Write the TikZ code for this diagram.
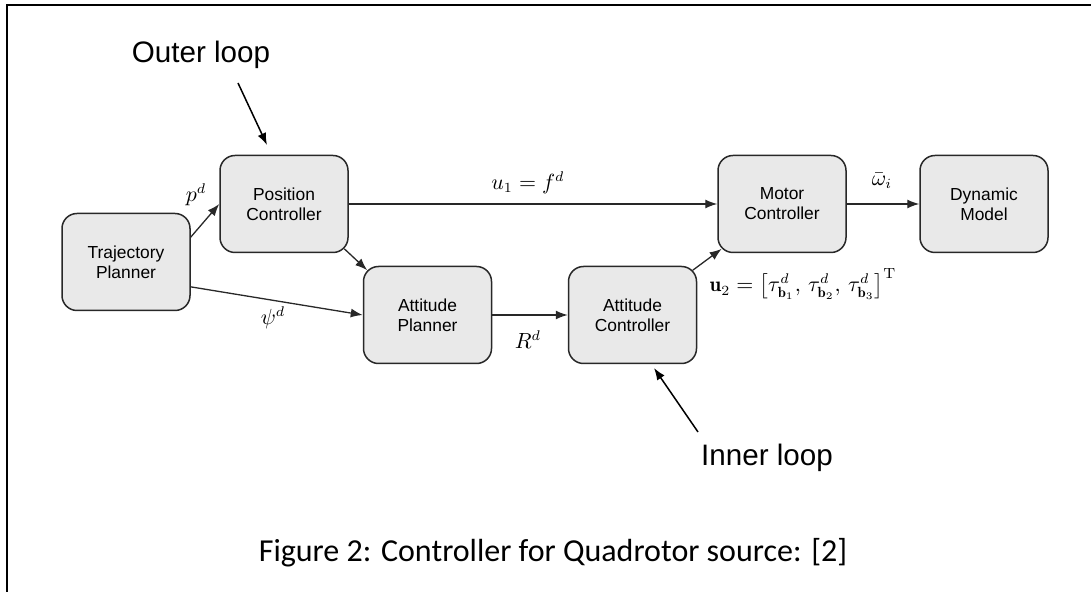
\documentclass[tikz,border=0pt]{standalone}
\usepackage{amsmath,amssymb}
\usepackage{fontspec}
\newfontfamily\blockfont{Liberation Sans}
\newfontfamily\captionfont{Carlito}
\usepackage{xcolor}
\usepackage{tikz}
\usetikzlibrary{arrows.meta, positioning}

\definecolor{blockfill}{RGB}{233,233,233}
\definecolor{blockline}{RGB}{40,40,40}

\begin{document}
\begin{tikzpicture}[
    x=0.5pt, y=-0.5pt,
    block/.style={draw=blockline, line width=0.75pt, rounded corners=7.5pt, fill=blockfill, minimum width=64pt, minimum height=48.5pt, inner sep=0pt, align=center, font=\blockfont\fontsize{8.7}{10}\selectfont},
    arr/.style={-{Latex[length=6pt,width=4.5pt]}, line width=0.65pt, draw=blockline},
    lbl/.style={font=\fontsize{10.5}{12}\selectfont, inner sep=1pt},
    loopnote/.style={font=\blockfont\fontsize{14.8}{16}\selectfont, inner sep=1pt},
    pointer/.style={-{Latex[length=6pt,width=4.5pt]}, line width=0.75pt},
]
\useasboundingbox (0,0) rectangle (1091,592);

% --- cadre de page (bords haut et gauche) ---
\draw[line width=1pt] (1091,5) -- (7,5) -- (7,592);

% --- Blocs ---
\node[block] (traj)  at (126,262)   {Trajectory\\Planner};
\node[block] (pos)   at (284,204)   {Position\\Controller};
\node[block] (attp)  at (427.5,315) {Attitude\\Planner};
\node[block] (attc)  at (632.5,315) {Attitude\\Controller};
\node[block] (motor) at (782,204)   {Motor\\Controller};
\node[block] (dyn)   at (984,204)   {Dynamic\\Model};

% --- Flux principal ---
\draw[arr] (traj.21) -- (pos.west);
\draw[arr] (traj.-21) -- (attp.west);
\draw[arr] ([shift={(-2.2pt,2.2pt)}]pos.south east) -- ([shift={(2.2pt,-2.2pt)}]attp.north west);
\draw[arr] (pos.east) -- (motor.west);
\draw[arr] (attp.east) -- (attc.west);
\draw[arr] ([shift={(-2.2pt,-2.2pt)}]attc.north east) -- ([shift={(2.2pt,2.2pt)}]motor.south west);
\draw[arr] (motor.east) -- (dyn.west);

% --- Signaux ---
\node[lbl] (pd)    at (196,195) {$p^d$};
\node[lbl] (psid)  at (273,318) {$\psi^d$};
\node[lbl] (u1)    at (528,183) {$u_1 = f^d$};
\node[lbl] (Rd)    at (528,340) {$R^d$};
\node[lbl] (omega) at (882,181) {$\bar{\omega}_i$};
\node[lbl] (u2)    at (803,284) {$\mathbf{u}_2 = \left[\tau^d_{\mathbf{b}_1},\, \tau^d_{\mathbf{b}_2},\, \tau^d_{\mathbf{b}_3}\right]^{\mathrm{T}}$};

% --- Boucles externe / interne ---
\node[loopnote] (outer) at (201,55)  {Outer loop};
\node[loopnote] (inner) at (767,458) {Inner loop};
\coordinate (outertail) at (238,83);
\coordinate (outertip)  at (267,145);
\coordinate (innertail) at (698,432);
\coordinate (innertip)  at (654,368);
\draw[pointer] (outertail) -- (outertip);
\draw[pointer] (innertail) -- (innertip);

% --- Légende ---
\node[font=\captionfont\fontsize{16}{18}\selectfont] (caption) at (553,553) {Figure 2: Controller for Quadrotor source: [2]};

\end{tikzpicture}
\end{document}
